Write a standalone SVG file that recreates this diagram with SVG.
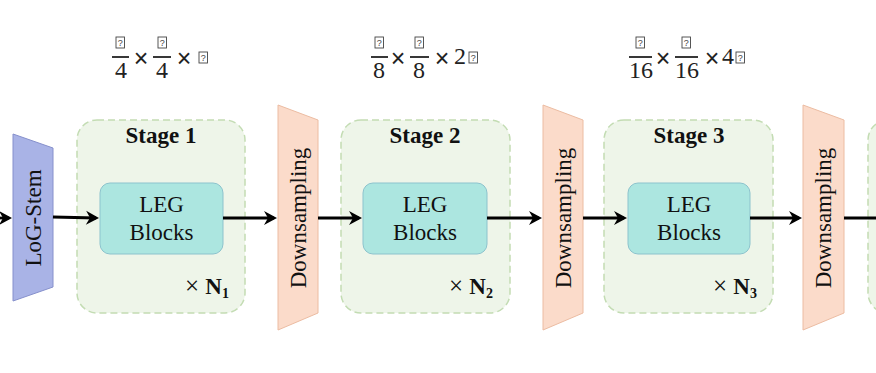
<svg xmlns="http://www.w3.org/2000/svg" width="876" height="373" viewBox="0 0 876 373">
<style>
.stage{fill:#eef5e9;stroke:#c3dcb3;stroke-width:1.5;stroke-dasharray:7 4}
.leg{fill:#ace6e0;stroke:#8cc3cd;stroke-width:1}
.stem{fill:#a9b3e6;stroke:#8690cc;stroke-width:1}
.down{fill:#fbdbca;stroke:#ecbca2;stroke-width:1}
.t{font-family:"Liberation Serif","Times New Roman",serif;font-size:23px;fill:#111;text-anchor:middle}
.b{font-weight:bold}
.f{font-family:"Liberation Serif","Times New Roman",serif;font-size:24px;fill:#222;text-anchor:middle}
.x{font-family:"Liberation Sans",Arial,sans-serif;font-size:25px;fill:#222;text-anchor:middle}
.bar{stroke:#222;stroke-width:1.8}
.tofu{fill:none;stroke:#444;stroke-width:0.9}
.q{font-family:"Liberation Sans",Arial,sans-serif;font-size:9px;fill:#444;text-anchor:middle}
.conn{stroke:#000;stroke-width:2.8;fill:none}
</style>
<defs>
<marker id="ah" viewBox="-12 -8 16 16" refX="0" refY="0" markerWidth="16" markerHeight="16" markerUnits="userSpaceOnUse" orient="auto">
<path d="M-10,-7 L3,0 L-10,7 L-6,0 z" fill="#000"/>
</marker>
<g id="tf"><rect class="tofu" x="0" y="0" width="8.5" height="11"/><text class="q" x="4.25" y="9">?</text></g>
</defs>

<g id="formula1">
<use href="#tf" x="116" y="37"/><line class="bar" x1="112" y1="57" x2="129" y2="57"/><text class="f" x="121" y="78">4</text>
<text class="x" x="141" y="67">×</text>
<use href="#tf" x="158" y="37"/><line class="bar" x1="153" y1="57" x2="171" y2="57"/><text class="f" x="162" y="78">4</text>
<text class="x" x="184" y="67">×</text>
<use href="#tf" x="199" y="52"/>
</g>
<g id="formula2">
<use href="#tf" x="375" y="37"/><line class="bar" x1="371" y1="57" x2="388" y2="57"/><text class="f" x="379" y="78">8</text>
<text class="x" x="398" y="67">×</text>
<use href="#tf" x="415" y="37"/><line class="bar" x1="410" y1="57" x2="429" y2="57"/><text class="f" x="419" y="78">8</text>
<text class="x" x="442" y="67">×</text>
<text class="f" x="460" y="64">2</text>
<use href="#tf" x="469" y="52"/>
</g>
<g id="formula3">
<use href="#tf" x="636" y="37"/><line class="bar" x1="629" y1="57" x2="652" y2="57"/><text class="f" x="641" y="78">16</text>
<text class="x" x="663" y="67">×</text>
<use href="#tf" x="682" y="37"/><line class="bar" x1="675" y1="57" x2="698" y2="57"/><text class="f" x="687" y="78">16</text>
<text class="x" x="712" y="67">×</text>
<text class="f" x="728" y="64">4</text>
<use href="#tf" x="736" y="52"/>
</g>

<g id="logstem">
<polygon class="stem" points="13,134 53,148 53,287 13,301"/>
<text class="t" transform="translate(41,218) rotate(-90)">LoG-Stem</text>
</g>

<g id="stage1">
<rect class="stage" x="77" y="120" width="168" height="193" rx="20"/>
<text class="t b" x="161" y="143">Stage 1</text>
<text class="t" x="207" y="294"><tspan font-size="25">× </tspan><tspan class="b">N</tspan><tspan class="b" font-size="14" dy="4">1</tspan></text>
</g>
<g id="leg1">
<rect class="leg" x="100" y="183" width="123" height="71" rx="10"/>
<text class="t" x="161.5" y="212">LEG</text>
<text class="t" x="161.5" y="240">Blocks</text>
</g>
<g id="down1">
<polygon class="down" points="278,105 318,120 318,313 278,330"/>
<text class="t" transform="translate(306,218) rotate(-90)">Downsampling</text>
</g>

<g id="stage2">
<rect class="stage" x="341" y="120" width="169" height="193" rx="20"/>
<text class="t b" x="425" y="143">Stage 2</text>
<text class="t" x="471" y="294"><tspan font-size="25">× </tspan><tspan class="b">N</tspan><tspan class="b" font-size="14" dy="4">2</tspan></text>
</g>
<g id="leg2">
<rect class="leg" x="363" y="183" width="124" height="71" rx="10"/>
<text class="t" x="425" y="212">LEG</text>
<text class="t" x="425" y="240">Blocks</text>
</g>
<g id="down2">
<polygon class="down" points="543,105 583,120 583,313 543,330"/>
<text class="t" transform="translate(571,218) rotate(-90)">Downsampling</text>
</g>

<g id="stage3">
<rect class="stage" x="604" y="120" width="169" height="193" rx="20"/>
<text class="t b" x="689" y="143">Stage 3</text>
<text class="t" x="735" y="294"><tspan font-size="25">× </tspan><tspan class="b">N</tspan><tspan class="b" font-size="14" dy="4">3</tspan></text>
</g>
<g id="leg3">
<rect class="leg" x="628" y="183" width="122" height="71" rx="10"/>
<text class="t" x="689" y="212">LEG</text>
<text class="t" x="689" y="240">Blocks</text>
</g>
<g id="down3">
<polygon class="down" points="803,105 844,120 844,313 803,330"/>
<text class="t" transform="translate(831,218) rotate(-90)">Downsampling</text>
</g>

<g id="stage4">
<rect class="stage" x="868" y="120" width="60" height="193" rx="20"/>
</g>

<g id="connectors">
<line class="conn" x1="-2" y1="218" x2="9" y2="218" marker-end="url(#ah)"/>
<line class="conn" x1="53" y1="217" x2="96" y2="218" marker-end="url(#ah)"/>
<line class="conn" x1="223" y1="218" x2="274" y2="218" marker-end="url(#ah)"/>
<line class="conn" x1="318" y1="218" x2="359" y2="218" marker-end="url(#ah)"/>
<line class="conn" x1="487" y1="218" x2="539" y2="218" marker-end="url(#ah)"/>
<line class="conn" x1="583" y1="218" x2="624" y2="218" marker-end="url(#ah)"/>
<line class="conn" x1="750" y1="218" x2="799" y2="218" marker-end="url(#ah)"/>
<line class="conn" x1="844" y1="218" x2="878" y2="218"/>
</g>
</svg>
